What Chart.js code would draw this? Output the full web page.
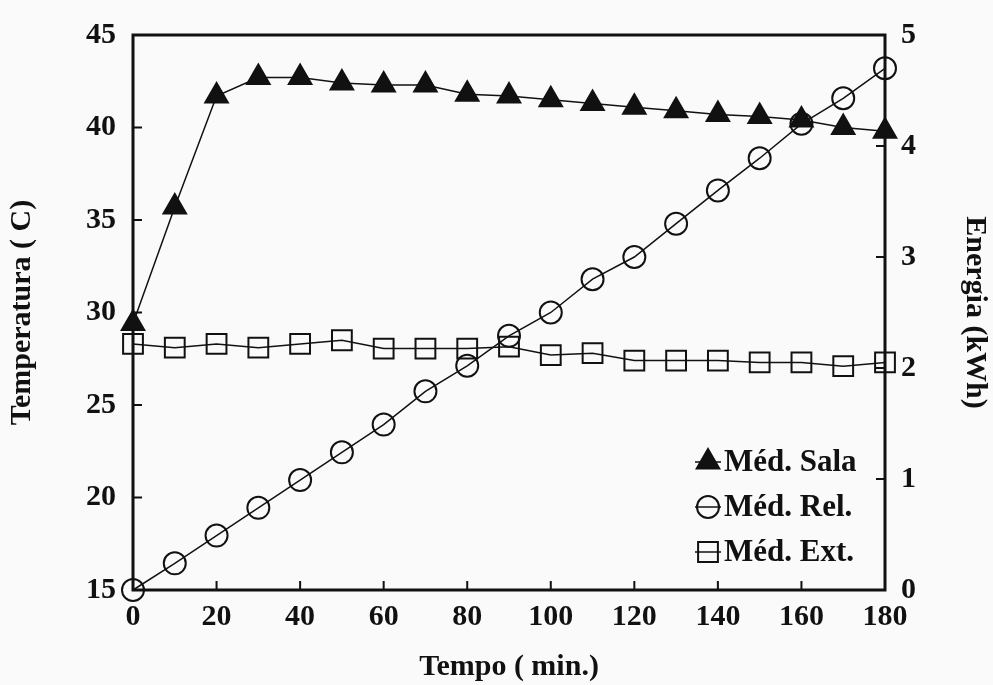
<!DOCTYPE html>
<html>
<head>
<meta charset="utf-8">
<script src="https://cdn.jsdelivr.net/npm/chart.js@4.4.1/dist/chart.umd.min.js"></script>
<style>
  html, body { margin: 0; padding: 0; background: #fafafa; }
  #wrap { width: 993px; height: 685px; }
</style>
</head>
<body>
<div id="wrap"><canvas id="grafico" width="993" height="685"></canvas></div>
<script>
// tempo em minutos
var tempo = [0, 10, 20, 30, 40, 50, 60, 70, 80, 90, 100, 110, 120, 130, 140, 150, 160, 170, 180];
// temperatura (eixo esquerdo)
var medSala = [29.4, 35.7, 41.7, 42.7, 42.7, 42.4, 42.3, 42.3, 41.8, 41.7, 41.5, 41.3, 41.1, 40.9, 40.7, 40.6, 40.4, 40.0, 39.8];
var medExt = [28.3, 28.1, 28.3, 28.1, 28.3, 28.5, 28.05, 28.05, 28.05, 28.15, 27.7, 27.8, 27.4, 27.4, 27.4, 27.3, 27.3, 27.1, 27.3];
// energia (eixo direito)
var medRel = [0, 0.24, 0.49, 0.74, 0.99, 1.24, 1.49, 1.79, 2.02, 2.29, 2.5, 2.8, 3.0, 3.3, 3.6, 3.89, 4.2, 4.43, 4.7];

var rotulos = ["Méd. Sala", "Méd. Rel.", "Méd. Ext."];
var tempoMin = 0, tempoMax = 180, tempoPasso = 20;
var tempMin = 15, tempMax = 45, tempPasso = 5;
var energiaMin = 0, energiaMax = 5, energiaPasso = 1;

var fonte = "'Liberation Serif', 'Times New Roman', serif";
var preto = "#111";

function pontos(ys) {
  return ys.map(function (y, i) { return { x: tempo[i], y: y }; });
}

// moldura e marcas internas dos eixos
var moldura = {
  id: "moldura",
  beforeDatasetsDraw: function (chart) {
    var ctx = chart.ctx, a = chart.chartArea, s = chart.scales;
    ctx.save();
    ctx.strokeStyle = preto;
    ctx.lineWidth = 2;
    ctx.beginPath();
    s.x.ticks.forEach(function (t) {
      var px = s.x.getPixelForValue(t.value);
      ctx.moveTo(px, a.bottom); ctx.lineTo(px, a.bottom - 9);
    });
    s.y.ticks.forEach(function (t) {
      var py = s.y.getPixelForValue(t.value);
      ctx.moveTo(a.left, py); ctx.lineTo(a.left + 9, py);
    });
    s.y1.ticks.forEach(function (t) {
      var py = s.y1.getPixelForValue(t.value);
      ctx.moveTo(a.right, py); ctx.lineTo(a.right - 9, py);
    });
    ctx.stroke();
    ctx.lineWidth = 3;
    ctx.strokeRect(a.left, a.top, a.right - a.left, a.bottom - a.top);
    ctx.restore();
  }
};

// legenda dentro da area do grafico
var legenda = {
  id: "legenda",
  afterDraw: function (chart) {
    var ctx = chart.ctx, a = chart.chartArea;
    var lx = a.right - 177, ly = a.bottom - 128;
    ctx.save();
    chart.data.datasets.forEach(function (ds, i) {
      var y = ly + i * 45;
      ctx.strokeStyle = preto;
      ctx.lineWidth = 1.5;
      ctx.beginPath();
      ctx.moveTo(lx - 13, y); ctx.lineTo(lx + 13, y);
      ctx.stroke();
      ctx.fillStyle = ds.pointBackgroundColor;
      ctx.strokeStyle = preto;
      ctx.lineWidth = 2;
      Chart.helpers.drawPoint(ctx, { pointStyle: ds.pointStyle, radius: ds.pointRadius, rotation: 0, borderWidth: 2 }, lx, y);
      ctx.fillStyle = preto;
      ctx.font = "bold 31px " + fonte;
      ctx.textBaseline = "middle";
      ctx.textAlign = "left";
      ctx.fillText(ds.label, lx + 16, y + 1);
    });
    ctx.restore();
  }
};

var serie = function (label, ys, eixo, estilo, raio, cheio) {
  return {
    label: label,
    data: pontos(ys),
    yAxisID: eixo,
    clip: false,
    borderColor: preto,
    borderWidth: 1.5,
    pointStyle: estilo,
    pointRadius: raio,
    pointHoverRadius: raio,
    pointBorderWidth: 2,
    pointBorderColor: preto,
    pointBackgroundColor: cheio ? preto : "rgba(0,0,0,0)",
    fill: false,
    tension: 0
  };
};

var fonteEixo = { family: fonte, size: 30, weight: "bold" };

new Chart("grafico", {
  type: "line",
  data: {
    datasets: [
      serie(rotulos[0], medSala, "y", "triangle", 13, true),
      serie(rotulos[1], medRel, "y1", "circle", 11, false),
      serie(rotulos[2], medExt, "y", "rect", 14, false)
    ]
  },
  options: {
    responsive: false,
    animation: false,
    layout: { padding: { top: 27, left: 0, right: 0, bottom: 0 } },
    plugins: { legend: { display: false }, tooltip: { enabled: false } },
    scales: {
      x: {
        type: "linear",
        min: tempoMin, max: tempoMax,
        grid: { display: false, drawTicks: false },
        border: { display: false },
        ticks: { stepSize: tempoPasso, color: preto, font: fonteEixo, padding: 9 },
        title: { display: true, text: "Tempo ( min.)", color: preto, font: fonteEixo, padding: { top: 0, bottom: 0 } },
        afterFit: function (s) { s.height = 95; }
      },
      y: {
        position: "left",
        min: tempMin, max: tempMax,
        grid: { display: false, drawTicks: false },
        border: { display: false },
        ticks: { stepSize: tempPasso, color: preto, font: fonteEixo, padding: 17 },
        title: { display: true, text: "Temperatura ( C)", color: preto, font: fonteEixo, padding: { top: 4, bottom: 0 } },
        afterFit: function (s) { s.width = 133; }
      },
      y1: {
        position: "right",
        min: energiaMin, max: energiaMax,
        grid: { display: false, drawTicks: false },
        border: { display: false },
        ticks: { stepSize: energiaPasso, color: preto, font: fonteEixo, padding: 16 },
        title: { display: true, text: "Energia (kWh)", color: preto, font: fonteEixo, padding: { top: 0, bottom: 0 } },
        afterFit: function (s) { s.width = 108; }
      }
    }
  },
  plugins: [moldura, legenda]
});
</script>
</body>
</html>
